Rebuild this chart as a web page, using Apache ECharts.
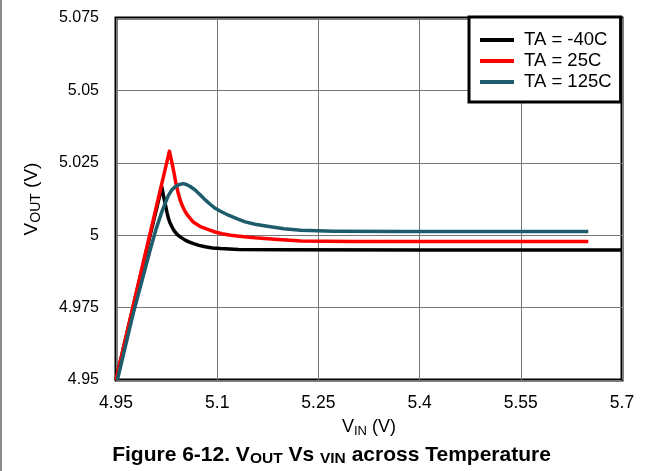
<!DOCTYPE html>
<html>
<head>
<meta charset="utf-8">
<script src="https://cdn.jsdelivr.net/npm/echarts@6/dist/echarts.min.js"></script>
<style>
  html, body { margin: 0; padding: 0; background: #fff; }
  #chart { width: 663px; height: 471px; }
  #edge { position: absolute; left: 0; top: 0; width: 2px; height: 471px; background: #8c8c8c; }
</style>
</head>
<body>
<div id="chart"></div>
<div id="edge"></div>
<script>
(function() {
  'use strict';

  // --- Data (VIN, VOUT in volts) ---
  var seriesNames = ['TA = -40C', 'TA = 25C', 'TA = 125C'];
  var seriesColors = ['#000000', '#ff0000', '#1d5c6b'];

  var cold = [
    [4.95, 4.95], [4.985, 4.9848], [5.0179, 5.0167], [5.0205, 5.0135],
    [5.0228, 5.011], [5.0252, 5.0082], [5.0277, 5.0058], [5.03, 5.0043],
    [5.0325, 5.0031], [5.035, 5.002], [5.0376, 5.0011], [5.041, 5.0002],
    [5.0445, 4.9995], [5.0485, 4.9989], [5.0525, 4.9983], [5.058, 4.9977],
    [5.065, 4.9971], [5.073, 4.9965], [5.0822, 4.996], [5.093, 4.9956],
    [5.105, 4.9954], [5.1316, 4.9951], [5.2, 4.995], [5.4, 4.9949], [5.7, 4.9949]
  ];

  var room = [
    [4.95, 4.95], [4.99, 4.9902], [5.0292, 5.029], [5.0325, 5.0255],
    [5.0357, 5.0219], [5.039, 5.0177], [5.0425, 5.0143], [5.045, 5.0122],
    [5.0475, 5.0106], [5.05, 5.0093], [5.0525, 5.0082], [5.056, 5.0069],
    [5.06, 5.0058], [5.0635, 5.0048], [5.0673, 5.0041], [5.075, 5.003],
    [5.087, 5.0019], [5.097, 5.0011], [5.107, 5.0005], [5.12, 5.0],
    [5.13, 4.9997], [5.143, 4.9994], [5.156, 4.9991], [5.19, 4.9985],
    [5.224, 4.998], [5.3, 4.9978], [5.65, 4.9978]
  ];

  var hot = [
    [4.952, 4.95], [4.975, 4.9725], [5.0005, 4.9948], [5.0094, 5.0021],
    [5.0183, 5.0083], [5.0272, 5.0135], [5.032, 5.0154], [5.0376, 5.0167],
    [5.044, 5.0175], [5.0495, 5.0178], [5.0545, 5.0175], [5.06, 5.0168],
    [5.0673, 5.0156], [5.075, 5.0139], [5.0822, 5.0122], [5.09, 5.0106],
    [5.097, 5.0093], [5.107, 5.008], [5.1167, 5.0069], [5.129, 5.0057],
    [5.1416, 5.0046], [5.156, 5.0038], [5.1743, 5.0031], [5.1989, 5.0022],
    [5.2237, 5.0017], [5.2727, 5.0014], [5.372, 5.0013], [5.65, 5.0013]
  ];

  var xTicks = { min: 4.95, max: 5.7, step: 0.15 };
  var yTicks = { min: 4.95, max: 5.075, step: 0.025 };

  var FONT = '"Liberation Sans", Arial, sans-serif';

  var chart = echarts.init(document.getElementById('chart'), null, { renderer: 'canvas' });

  function tidy(digits) {
    return function(v) { return String(parseFloat(v.toFixed(digits))); };
  }

  var nameRich = {
    v: { fontFamily: FONT, fontSize: 18, color: '#000', lineHeight: 22 },
    s: { fontFamily: FONT, fontSize: 13, color: '#000', lineHeight: 22, padding: [8, 0, 0, 0] }
  };

  var option = {
    animation: false,
    backgroundColor: '#fff',
    title: {
      left: 'center',
      top: 438,
      text: '{b|Figure 6-12. V}{s|OUT}{b| Vs }{s|VIN}{b| across Temperature}',
      textStyle: {
        rich: {
          b: { fontFamily: FONT, fontWeight: 'bold', fontSize: 21, color: '#000', lineHeight: 24 },
          s: { fontFamily: FONT, fontWeight: 'bold', fontSize: 15.5, color: '#000', lineHeight: 24, padding: [8, 0, 0, 0] }
        }
      }
    },
    grid: {
      left: 116,
      right: 41,
      top: 18,
      bottom: 91,
      show: true,
      borderColor: '#000',
      borderWidth: 3,
      containLabel: false,
      outerBoundsMode: 'none'
    },
    legend: {
      orient: 'vertical',
      left: 469,
      top: 17,
      padding: [13, 9, 10, 11],
      itemGap: 1,
      itemWidth: 34,
      itemHeight: 4,
      icon: 'rect',
      backgroundColor: '#fff',
      borderColor: '#000',
      borderWidth: 3,
      data: seriesNames,
      textStyle: {
        fontFamily: FONT,
        fontSize: 18.5,
        color: '#000',
        lineHeight: 20,
        padding: [0, 0, 0, 5]
      }
    },
    xAxis: {
      type: 'value',
      min: xTicks.min,
      max: xTicks.max,
      interval: xTicks.step,
      name: '{v|V}{s|IN}{v| (V)}',
      nameLocation: 'middle',
      nameGap: 36,
      nameTextStyle: { rich: nameRich },
      axisLine: { show: false },
      axisTick: { show: false },
      splitLine: { show: true, lineStyle: { color: '#777', width: 1 } },
      axisLabel: {
        fontFamily: FONT,
        fontSize: 17.5,
        color: '#000',
        margin: 14,
        formatter: tidy(2)
      }
    },
    yAxis: {
      type: 'value',
      min: yTicks.min,
      max: yTicks.max,
      interval: yTicks.step,
      name: '{v|V}{s|OUT}{v| (V)}',
      nameLocation: 'middle',
      nameRotate: 90,
      nameGap: 73,
      nameTextStyle: {
        rich: {
          v: { fontFamily: FONT, fontSize: 19, color: '#000', lineHeight: 22 },
          s: { fontFamily: FONT, fontSize: 14, color: '#000', lineHeight: 22, padding: [8, 0, 0, 0] }
        }
      },
      axisLine: { show: false },
      axisTick: { show: false },
      splitLine: { show: true, lineStyle: { color: '#777', width: 1 } },
      axisLabel: {
        fontFamily: FONT,
        fontSize: 16,
        color: '#000',
        margin: 17,
        formatter: tidy(3)
      }
    },
    series: [cold, room, hot].map(function(data, i) {
      return {
        name: seriesNames[i],
        type: 'line',
        data: data,
        symbol: 'none',
        smooth: false,
        clip: false,
        lineStyle: { color: seriesColors[i], width: 3.5, join: 'round' },
        itemStyle: { color: seriesColors[i] }
      };
    })
  };

  chart.setOption(option);
})();
</script>
</body>
</html>
